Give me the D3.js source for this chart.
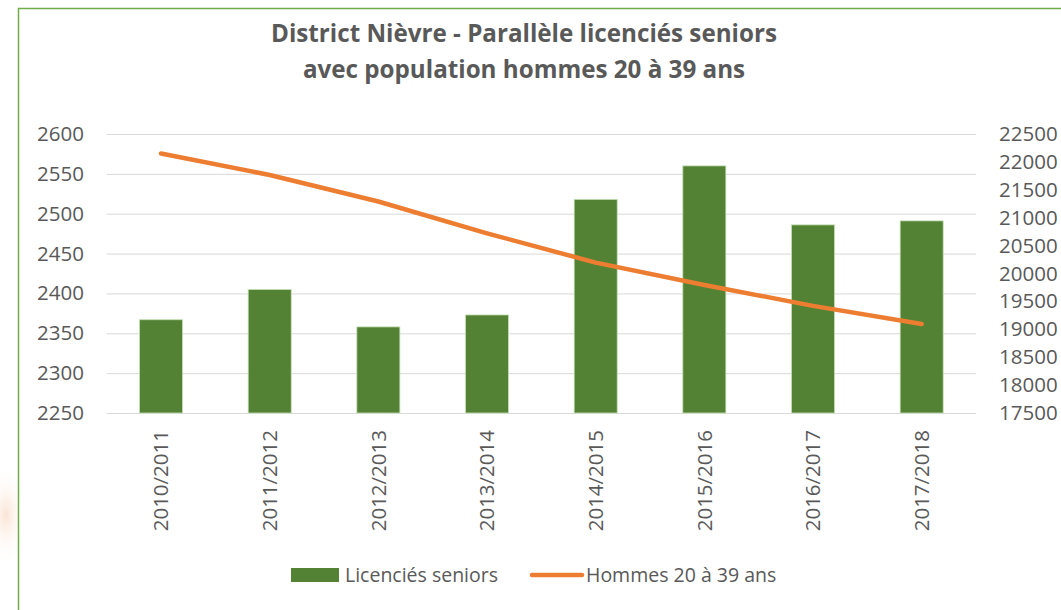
<!DOCTYPE html>
<meta charset="utf-8">
<html>
  <head>
    <style>
      body { margin: 0; background: #fff; }
      text { font-family: "Open Sans", sans-serif; fill: #595959; }
      .grid line { stroke: #D9D9D9; stroke-width: 1px; }
      .tick text { font-size: 20.5px; }
    </style>
    <script src="https://d3js.org/d3.v7.min.js"></script>
  </head>
  <body>
    <div id="chart"></div>
    <script type="text/javascript">
      var seasons = ["2010/2011", "2011/2012", "2012/2013", "2013/2014",
                     "2014/2015", "2015/2016", "2016/2017", "2017/2018"];
      var licencies = [2367, 2405, 2358, 2373, 2518, 2560, 2486, 2491];
      var hommes = [22150, 21765, 21290, 20720, 20195, 19795, 19420, 19095];
      var leftTicks = [2250, 2300, 2350, 2400, 2450, 2500, 2550, 2600];
      var rightTicks = [17500, 18000, 18500, 19000, 19500, 20000, 20500, 21000, 21500, 22000, 22500];
      var titleLines = ["District Nièvre - Parallèle licenciés seniors", "avec population hommes 20 à 39 ans"];
      var legendNames = ["Licenciés seniors", "Hommes 20 à 39 ans"];

      var W = 1061, H = 610,
          plot = { left: 106.7, right: 976, top: 134, bottom: 413 },
          barColor = "#548235", lineColor = "#ED7D31";

      var svg = d3.select("#chart").append("svg")
          .attr("width", W)
          .attr("height", H);

      // faded watermark bit on the left edge
      var grad = svg.append("defs").append("radialGradient").attr("id", "wm");
      grad.append("stop").attr("offset", "0%").attr("stop-color", "#f8d9c2").attr("stop-opacity", 0.7);
      grad.append("stop").attr("offset", "100%").attr("stop-color", "#fff").attr("stop-opacity", 0);
      svg.append("ellipse").attr("cx", 6).attr("cy", 515).attr("rx", 22).attr("ry", 50).attr("fill", "url(#wm)");

      // chart frame
      svg.append("rect")
          .attr("x", 18.5).attr("y", 8.5)
          .attr("width", W + 20).attr("height", H + 20)
          .attr("fill", "#fff")
          .attr("stroke", "#70AD47").attr("stroke-width", 1.5);

      var x = d3.scaleBand().domain(seasons)
          .range([plot.left, plot.right])
          .paddingInner(0.604).paddingOuter(0.302);
      var yL = d3.scaleLinear().domain([2250, 2600]).range([plot.bottom, plot.top]);
      var yR = d3.scaleLinear().domain([17500, 22500]).range([plot.bottom, plot.top]);

      // gridlines
      svg.append("g").attr("class", "grid")
          .attr("transform", "translate(" + plot.left + ",0)")
          .call(d3.axisLeft(yL).tickValues(leftTicks).tickSize(-(plot.right - plot.left)).tickFormat(""))
          .call(function(g) { g.select(".domain").remove(); });

      // left axis labels
      svg.append("g")
          .attr("transform", "translate(84,0)")
          .call(d3.axisLeft(yL).tickValues(leftTicks).tickSize(0).tickPadding(0).tickFormat(d3.format("d")))
          .call(function(g) { g.select(".domain").remove(); });

      // right axis labels
      svg.append("g")
          .attr("transform", "translate(999,0)")
          .call(d3.axisRight(yR).tickValues(rightTicks).tickSize(0).tickPadding(0).tickFormat(d3.format("d")))
          .call(function(g) { g.select(".domain").remove(); });

      // x labels, rotated
      svg.append("g")
          .attr("transform", "translate(0," + plot.bottom + ")")
          .call(d3.axisBottom(x).tickSize(0).tickPadding(0))
          .call(function(g) { g.select(".domain").remove(); })
          .selectAll("text")
            .attr("transform", "rotate(-90)")
            .attr("x", -17).attr("y", 0).attr("dy", "0.35em")
            .style("text-anchor", "end");

      // bars
      svg.selectAll(".bar")
          .data(seasons)
          .enter().append("rect")
            .attr("class", "bar")
            .attr("x", function(d) { return x(d); })
            .attr("y", function(d, i) { return yL(licencies[i]); })
            .attr("width", x.bandwidth())
            .attr("height", function(d, i) { return plot.bottom - yL(licencies[i]); })
            .attr("fill", barColor)
            .attr("stroke", "#C5E0B4").attr("stroke-width", 0.8);

      // line
      var line = d3.line()
          .x(function(d, i) { return x(seasons[i]) + x.bandwidth() / 2; })
          .y(function(d) { return yR(d); });
      svg.append("path")
          .datum(hommes)
          .attr("d", line)
          .attr("fill", "none")
          .attr("stroke", lineColor)
          .attr("stroke-width", 4.5)
          .attr("stroke-linecap", "round")
          .attr("stroke-linejoin", "round");

      // title
      svg.selectAll(".title")
          .data(titleLines)
          .enter().append("text")
            .attr("class", "title")
            .attr("x", 524)
            .attr("y", function(d, i) { return 42 + i * 36; })
            .style("text-anchor", "middle")
            .style("font-size", "24.2px")
            .style("font-weight", "bold")
            .text(function(d) { return d; });

      // legend
      var lg = svg.append("g");
      lg.append("rect")
          .attr("x", 291).attr("y", 568).attr("width", 48).attr("height", 14)
          .attr("fill", barColor);
      lg.append("text")
          .attr("x", 345).attr("y", 575).attr("dy", "0.35em")
          .style("font-size", "19.5px")
          .text(legendNames[0]);
      lg.append("line")
          .attr("x1", 532).attr("x2", 582).attr("y1", 575).attr("y2", 575)
          .attr("stroke", lineColor).attr("stroke-width", 4.5)
          .attr("stroke-linecap", "round");
      lg.append("text")
          .attr("x", 586).attr("y", 575).attr("dy", "0.35em")
          .style("font-size", "19.5px")
          .text(legendNames[1]);
    </script>
  </body>
</html>
